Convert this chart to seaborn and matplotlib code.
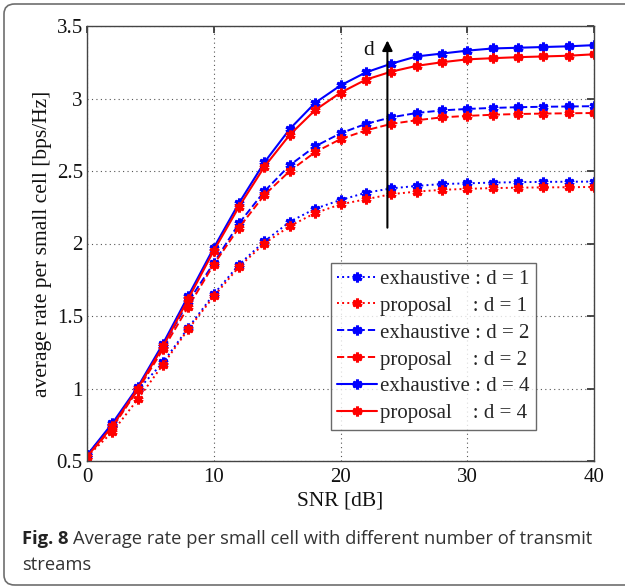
import matplotlib
matplotlib.use("Agg")
import matplotlib.pyplot as plt
import seaborn as sns
import pandas as pd
from matplotlib.patches import FancyBboxPatch

snr = [0, 2, 4, 6, 8, 10, 12, 14, 16, 18, 20, 22, 24, 26, 28, 30, 32, 34, 36, 38, 40]

ex1 = [0.54, 0.74, 0.99, 1.18, 1.42, 1.65, 1.855, 2.015, 2.15, 2.24, 2.30, 2.35, 2.38, 2.397, 2.41, 2.415, 2.42, 2.423, 2.425, 2.426, 2.427]
pr1 = [0.53, 0.70, 0.925, 1.165, 1.41, 1.635, 1.84, 2.0, 2.12, 2.21, 2.27, 2.305, 2.34, 2.358, 2.37, 2.377, 2.382, 2.385, 2.387, 2.388, 2.39]
ex2 = [0.54, 0.75, 1.00, 1.29, 1.60, 1.865, 2.14, 2.36, 2.54, 2.67, 2.76, 2.825, 2.87, 2.90, 2.918, 2.928, 2.935, 2.94, 2.943, 2.945, 2.947]
pr2 = [0.53, 0.73, 0.99, 1.27, 1.565, 1.855, 2.11, 2.335, 2.50, 2.63, 2.72, 2.78, 2.825, 2.85, 2.87, 2.88, 2.888, 2.893, 2.896, 2.898, 2.9]
ex4 = [0.54, 0.76, 1.01, 1.31, 1.64, 1.97, 2.28, 2.56, 2.79, 2.97, 3.09, 3.18, 3.24, 3.29, 3.31, 3.33, 3.345, 3.35, 3.355, 3.36, 3.368]
pr4 = [0.53, 0.74, 1.00, 1.29, 1.62, 1.95, 2.255, 2.53, 2.75, 2.92, 3.04, 3.13, 3.185, 3.225, 3.25, 3.27, 3.278, 3.285, 3.29, 3.295, 3.305]

labels = ["exhaustive : d = 1", "proposal    : d = 1",
          "exhaustive : d = 2", "proposal    : d = 2",
          "exhaustive : d = 4", "proposal    : d = 4"]
series = [ex1, pr1, ex2, pr2, ex4, pr4]
colors = ["#0000ff", "#ff0000"] * 3
styles = [":", ":", "--", "--", "-", "-"]

xticks = [0, 10, 20, 30, 40]
yticks = [0.5, 1, 1.5, 2, 2.5, 3, 3.5]
ytick_labels = ["0.5", "1", "1.5", "2", "2.5", "3", "3.5"]

caption_bold = "Fig. 8"
caption_line1 = "Average rate per small cell with different number of transmit"
caption_line2 = "streams"

sns.set_theme(style="white")
plt.rcParams["font.family"] = ["Liberation Serif", "DejaVu Serif"]

W, H = 625, 588
fig = plt.figure(figsize=(6.25, 5.88), dpi=100)
fig.patch.set_facecolor("white")

# outer rounded frame (runs off the right edge like the reference)
frame = FancyBboxPatch((4 / W, (H - 585) / H), (640 - 4) / W, (585 - 4) / H,
                       boxstyle="round,pad=0,rounding_size=0.017",
                       transform=fig.transFigure, fill=False,
                       edgecolor="#6e6e6e", linewidth=1.2)
fig.patches.append(frame)

ax = fig.add_axes([87 / W, (H - 461) / H, (594 - 87) / W, (461 - 26) / H])

for vals, lab, c, ls in zip(series, labels, colors, styles):
    df = pd.DataFrame({"snr": snr, "rate": vals})
    sns.lineplot(data=df, x="snr", y="rate", ax=ax, color=c, linestyle=ls,
                 linewidth=1.4 if ls != "-" else 1.5,
                 marker=(6, 2, 0), markersize=7, markeredgewidth=2.2,
                 markeredgecolor=c, label=lab)

ax.set_xlim(0, 40)
ax.set_ylim(0.5, 3.5)
ax.set_xticks(xticks)
ax.set_yticks(yticks)
ax.set_yticklabels(ytick_labels)
ax.tick_params(axis="both", which="both", direction="in", length=5,
               top=True, right=True, labelsize=15, color="#333333",
               labelcolor="#111111")
ax.tick_params(axis="x", pad=5)
ax.tick_params(axis="y", pad=3)
ax.grid(True, linestyle=(0, (1, 3)), color="#555555", linewidth=0.8)
for s in ax.spines.values():
    s.set_color("#444444")
    s.set_linewidth(1.0)

ax.set_xlabel("SNR [dB]", fontsize=15.5, labelpad=3, color="#111111")
ax.set_ylabel("average rate per small cell [bps/Hz]", fontsize=15.5, labelpad=3, color="#111111")

# arrow indicating increasing d
ax.annotate("", xy=(23.7, 3.42), xytext=(23.7, 2.09),
            arrowprops=dict(arrowstyle="-|>", color="black", lw=1.5,
                            mutation_scale=15))
ax.text(22.2, 3.33, "d", fontsize=15.5, ha="center", va="center", color="#111111")

leg = ax.legend(loc="upper left", bbox_to_anchor=(0.481, 0.455), fontsize=15,
                frameon=True, fancybox=False, edgecolor="#444444",
                handlelength=1.9, handletextpad=0.15, labelspacing=0.35,
                borderpad=0.3, borderaxespad=0.0)
leg.get_frame().set_linewidth(1.0)

cap_font = ["Open Sans", "DejaVu Sans"]
cap_size = 13.2
x0 = 22.5 / W
t_bold = fig.text(x0, 1 - 544 / H, caption_bold, fontsize=cap_size, color="#222222",
                  family=cap_font, fontweight="bold", va="baseline")
renderer = fig.canvas.get_renderer()
bb = t_bold.get_window_extent(renderer=renderer)
space = 4.0
fig.text((bb.x1 + space) / W, 1 - 544 / H, caption_line1,
         fontsize=cap_size, color="#333333", family=cap_font, va="baseline")
fig.text(x0, 1 - 570 / H, caption_line2, fontsize=cap_size, color="#333333",
         family=cap_font, va="baseline")

fig.savefig("out.png", dpi=100, facecolor="white")
